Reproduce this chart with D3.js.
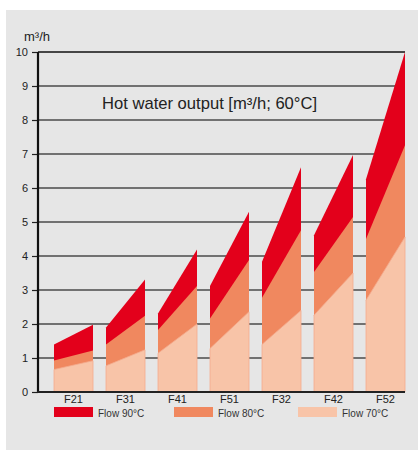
<!DOCTYPE html>
<html>
<head>
<meta charset="utf-8">
<script src="https://cdn.jsdelivr.net/npm/d3@7"></script>
<style>
  html, body { margin: 0; padding: 0; background: #fff; }
  text { font-family: "Liberation Sans", Arial, sans-serif; }
</style>
</head>
<body>
<div id="chart"></div>
<script>
// categories along x
var categories = ["F21", "F31", "F41", "F51", "F32", "F42", "F52"];

// stacked tops (m3/h) at left and right edge of every block
var flow70Start = [0.66, 0.77, 1.14, 1.28, 1.40, 2.26, 2.70];
var flow70End   = [0.92, 1.24, 2.00, 2.36, 2.40, 3.50, 4.56];
var flow80Start = [0.93, 1.40, 1.82, 2.16, 2.77, 3.53, 4.50];
var flow80End   = [1.22, 2.24, 3.12, 3.88, 4.76, 5.15, 7.26];
var flow90Start = [1.40, 1.90, 2.31, 3.12, 3.83, 4.61, 6.26];
var flow90End   = [1.98, 3.31, 4.19, 5.30, 6.61, 6.97, 10.0];

var yTicks = [0, 1, 2, 3, 4, 5, 6, 7, 8, 9, 10];
var seriesNames = ["Flow 90°C", "Flow 80°C", "Flow 70°C"];

var colors = ["#e3001b", "#f0885f", "#f8c4a8"];

var width = 419, height = 450;
var plotLeft = 38, plotRight = 405, plotTop = 52, plotBottom = 392;

var svg = d3.select("#chart").append("svg")
    .attr("width", width)
    .attr("height", height);

// grey panel
svg.append("rect")
    .attr("x", 6).attr("y", 10)
    .attr("width", 412).attr("height", 440)
    .attr("fill", "#e6e6e6");

var y = d3.scaleLinear().domain([0, 10]).range([plotBottom, plotTop]);
var x = d3.scaleBand().domain(categories).range([54, plotRight])
    .paddingInner(0.25).paddingOuter(0);

// grid lines
svg.append("g").selectAll("line")
    .data(yTicks.slice(1))
    .enter().append("line")
    .attr("x1", plotLeft).attr("x2", plotRight)
    .attr("y1", function (d) { return y(d); })
    .attr("y2", function (d) { return y(d); })
    .attr("stroke", function (d) { return d === 10 ? "#111" : "#4a4a4a"; })
    .attr("stroke-width", 1.3);

// stacked blocks, drawn back to front
var layers = [
  { start: flow90Start, end: flow90End, color: colors[0] },
  { start: flow80Start, end: flow80End, color: colors[1] },
  { start: flow70Start, end: flow70End, color: colors[2] }
];

layers.forEach(function (layer, li) {
  svg.append("g").selectAll("path")
      .data(categories)
      .enter().append("path")
      .attr("d", function (c, i) {
        var x0 = x(c), x1 = x(c) + x.bandwidth();
        return "M" + x0 + "," + y(0) +
               "L" + x0 + "," + y(layer.start[i]) +
               "L" + x1 + "," + y(layer.end[i]) +
               "L" + x1 + "," + y(0) + "Z";
      })
      .attr("fill", layer.color)
      .attr("stroke", li === 2 ? "#f4ab8e" : "none")
      .attr("stroke-width", li === 2 ? 0.8 : 0);
});

// y axis
var yAxis = svg.append("g")
    .attr("transform", "translate(" + plotLeft + ",0)")
    .call(d3.axisLeft(y).tickValues(yTicks).tickSize(6).tickPadding(4));
yAxis.select(".domain").remove();
yAxis.selectAll(".tick line").attr("stroke", "#222").attr("stroke-width", 1.2);
yAxis.selectAll(".tick text")
    .attr("fill", "#222")
    .style("font-size", "11px")
    .style("font-family", "Liberation Sans, Arial, sans-serif");

svg.append("line")
    .attr("x1", plotLeft).attr("x2", plotLeft)
    .attr("y1", plotTop).attr("y2", plotBottom + 1)
    .attr("stroke", "#111").attr("stroke-width", 2.2);
svg.append("line")
    .attr("x1", plotLeft - 1).attr("x2", plotRight)
    .attr("y1", plotBottom).attr("y2", plotBottom)
    .attr("stroke", "#222").attr("stroke-width", 2);

// x labels
svg.append("g").selectAll("text")
    .data(categories)
    .enter().append("text")
    .attr("x", function (c) { return x(c) + x.bandwidth() / 2; })
    .attr("y", 402.5)
    .attr("text-anchor", "middle")
    .attr("fill", "#222")
    .style("font-size", "11px")
    .text(function (c) { return c; });

// unit
svg.append("text")
    .attr("x", 24).attr("y", 40.5)
    .attr("fill", "#222")
    .style("font-size", "13px")
    .text("m³/h");

// title
svg.append("text")
    .attr("x", 102).attr("y", 108.7)
    .attr("fill", "#222")
    .style("font-size", "16.6px")
    .text("Hot water output [m³/h; 60°C]");

// legend
var legendX = [54, 174, 298];
var legend = svg.append("g").selectAll("g")
    .data(seriesNames)
    .enter().append("g")
    .attr("transform", function (d, i) { return "translate(" + legendX[i] + ",407)"; });
legend.append("rect")
    .attr("width", 39).attr("height", 10)
    .attr("fill", function (d, i) { return colors[i]; });
legend.append("text")
    .attr("x", 44).attr("y", 9.6)
    .attr("fill", "#333")
    .style("font-size", "10px")
    .text(function (d) { return d; });
</script>
</body>
</html>
